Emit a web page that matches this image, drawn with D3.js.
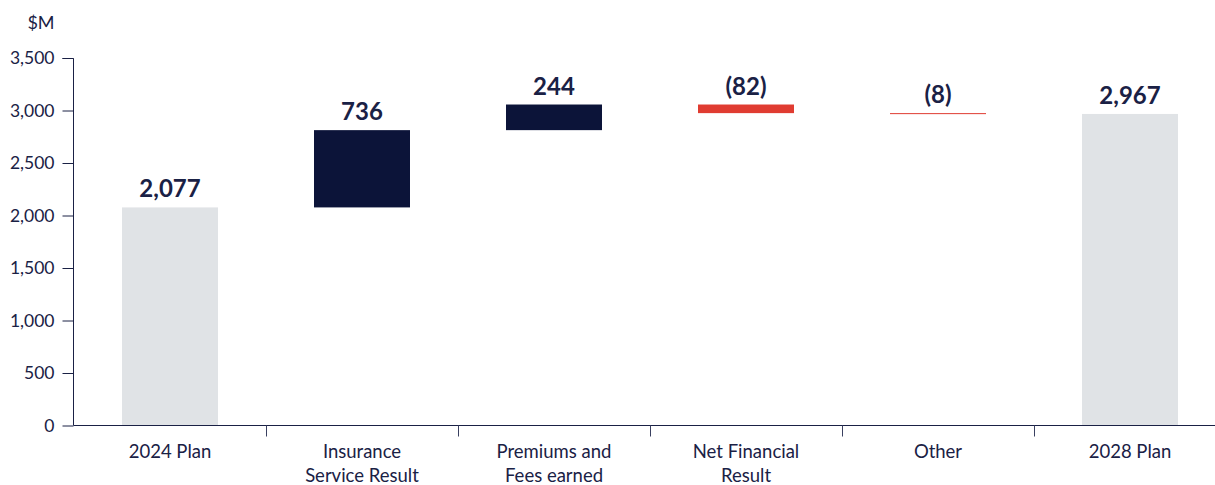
<!DOCTYPE html>
<html>
<head>
<meta charset="utf-8">
<script src="https://cdn.jsdelivr.net/npm/d3@7"></script>
<style>
  body { margin: 0; background: #fff; }
  text { font-family: Lato, "Open Sans", sans-serif; fill: #1a2145; }
</style>
</head>
<body>
<script>
var w = 1215;
var h = 485;

// chart data
var categories = ["2024 Plan", "Insurance\nService Result", "Premiums and\nFees earned", "Net Financial\nResult", "Other", "2028 Plan"];
var values = [2077, 736, 244, -82, -8, 2967];
var kinds = ["total", "delta", "delta", "delta", "delta", "total"];
var labels = ["2,077", "736", "244", "(82)", "(8)", "2,967"];
var yTicks = [0, 500, 1000, 1500, 2000, 2500, 3000, 3500];

var svg = d3.select("body")
            .append("svg")
            .attr("width", w)
            .attr("height", h);

// build waterfall start / end for each step
var running = 0;
var dataset = categories.map(function(c, i) {
    var d = { cat: c, kind: kinds[i], label: labels[i] };
    if (kinds[i] === "total") {
        d.y0 = 0; d.y1 = values[i]; running = values[i];
    } else {
        d.y0 = running; d.y1 = running + values[i]; running = d.y1;
    }
    return d;
});

var xScale = d3.scaleBand()
               .domain(categories)
               .range([74, 1226])
               .paddingInner(0)
               .paddingOuter(0);

var yScale = d3.scaleLinear()
               .domain([0, 3500])
               .range([425.5, 58]);

function barColor(d) {
    if (d.kind === "total") return "#e0e3e6";
    return d.y1 >= d.y0 ? "#0c1439" : "#e03c31";
}

var barW = xScale.bandwidth() * 0.5;

// bars
svg.selectAll("rect.bar")
   .data(dataset)
   .enter()
   .append("rect")
   .attr("class", "bar")
   .attr("x", function(d) { return xScale(d.cat) + (xScale.bandwidth() - barW) / 2; })
   .attr("y", function(d) { return yScale(Math.max(d.y0, d.y1)); })
   .attr("width", barW)
   .attr("height", function(d) { return Math.max(1, Math.abs(yScale(d.y0) - yScale(d.y1))); })
   .attr("fill", barColor);

// value labels
svg.selectAll("text.val")
   .data(dataset)
   .enter()
   .append("text")
   .attr("class", "val")
   .attr("x", function(d) { return xScale(d.cat) + xScale.bandwidth() / 2; })
   .attr("y", function(d) { return yScale(Math.max(d.y0, d.y1)) - 10; })
   .attr("text-anchor", "middle")
   .style("font-size", "24px")
   .style("font-weight", "bold")
   .text(function(d) { return d.label; });

// y axis
var yAxis = d3.axisLeft(yScale)
              .tickValues(yTicks)
              .tickSize(11)
              .tickPadding(8)
              .tickFormat(d3.format(","));

var gy = svg.append("g")
            .attr("transform", "translate(73.5,0)")
            .call(yAxis);
gy.select(".domain").attr("stroke", "#1a2145").attr("d", "M-11,58.5H0V425.5");
gy.selectAll(".tick line").attr("stroke", "#1a2145");
gy.selectAll(".tick text").style("font-size", "17.5px").attr("fill", "#1a2145");

// x axis: baseline with ticks between categories
var gx = svg.append("g").attr("transform", "translate(0,425.5)");
gx.append("line")
  .attr("x1", 73.5).attr("x2", w)
  .attr("stroke", "#1a2145");
gx.selectAll("line.sep")
  .data(categories.slice(1))
  .enter()
  .append("line")
  .attr("class", "sep")
  .attr("x1", function(c) { return Math.round(xScale(c)) + 0.5; })
  .attr("x2", function(c) { return Math.round(xScale(c)) + 0.5; })
  .attr("y1", 0).attr("y2", 11)
  .attr("stroke", "#3a4060");

var cl = gx.selectAll("text.cat")
  .data(categories)
  .enter()
  .append("text")
  .attr("class", "cat")
  .attr("text-anchor", "middle")
  .attr("x", function(c) { return xScale(c) + xScale.bandwidth() / 2; })
  .attr("y", 32)
  .style("font-size", "18.5px");
cl.each(function(c) {
    var t = d3.select(this);
    c.split("\n").forEach(function(line, i) {
        t.append("tspan")
         .attr("x", t.attr("x"))
         .attr("dy", i === 0 ? 0 : 24)
         .text(line);
    });
});

// unit label
svg.append("text")
   .attr("x", 41)
   .attr("y", 29)
   .attr("text-anchor", "middle")
   .style("font-size", "18px")
   .text("$M");
</script>
</body>
</html>
